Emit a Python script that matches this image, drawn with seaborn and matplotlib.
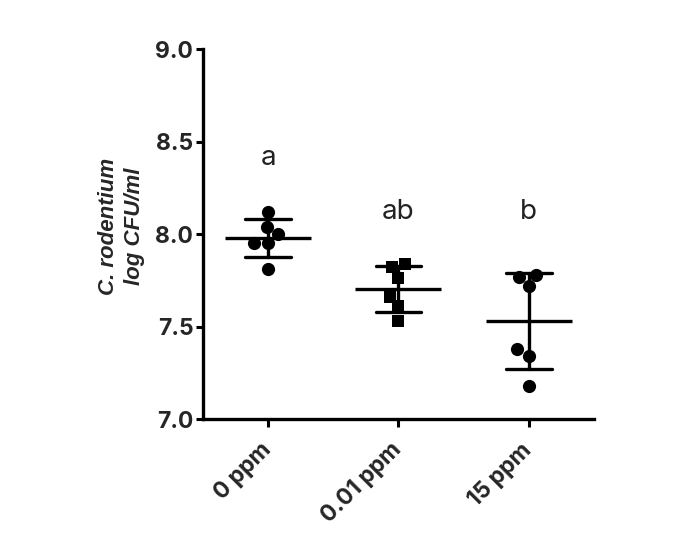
import numpy as np
import pandas as pd
import matplotlib
matplotlib.use('Agg')
import matplotlib.pyplot as plt
import seaborn as sns

# Datos (log CFU/ml)
groups = ['0 ppm', '0.01 ppm', '15 ppm']
vals_0ppm = [8.12, 8.04, 8.00, 7.95, 7.95, 7.81]
vals_001ppm = [7.84, 7.82, 7.76, 7.66, 7.61, 7.53]
vals_15ppm = [7.78, 7.77, 7.72, 7.38, 7.34, 7.18]
letters = ['a', 'ab', 'b']
letter_y = [8.41, 8.12, 8.12]
yticks = [7.0, 7.5, 8.0, 8.5, 9.0]

df = pd.DataFrame({
    'group': np.repeat(groups, 6),
    'value': vals_0ppm + vals_001ppm + vals_15ppm,
})

sns.set_style('ticks')
plt.rcParams['font.family'] = ['Inter', 'DejaVu Sans']

fig = plt.figure(figsize=(6.8, 5.47), dpi=100)
ax = fig.add_axes([0.2985, 0.234, 0.575, 0.6764])

markers = ['o', 's', 'o']
for g, m in zip(groups, markers):
    sns.swarmplot(data=df[df['group'] == g], x='group', y='value', order=groups,
                  marker=m, color='black', size=9.5 if m == 'o' else 9, ax=ax, zorder=3)

sns.pointplot(data=df, x='group', y='value', order=groups, estimator='mean',
              errorbar='sd', capsize=0.35, color='black', markers='_',
              linestyles='none', markersize=62, markeredgewidth=2.4,
              err_kws={'linewidth': 2.4}, ax=ax, zorder=2)

for i, (lt, ly) in enumerate(zip(letters, letter_y)):
    ax.text(i, ly, lt, ha='center', va='center', fontsize=20, color='#222222')

ax.set_xlim(-0.5, 2.5)
ax.set_ylim(7.0, 9.0)
ax.set_yticks(yticks)
ax.set_yticklabels([f'{t:.1f}' for t in yticks], fontsize=16.5, fontweight='bold')
ax.set_xticks(range(len(groups)))
ax.set_xticklabels(groups, fontsize=16.5, fontweight='bold', rotation=45,
                   ha='right', va='center', rotation_mode='anchor')
ax.tick_params(axis='both', width=2.2, length=5, color='black', pad=2)
ax.tick_params(axis='x', length=6, pad=14)
ax.set_xlabel('')
ax.set_ylabel('C. rodentium\nlog CFU/ml', fontsize=16, fontweight='bold',
              fontstyle='italic', linespacing=1.35,
              family=['Liberation Sans', 'DejaVu Sans'])
ax.yaxis.set_label_coords(-0.148, 0.52)

for s in ['top', 'right']:
    ax.spines[s].set_visible(False)
for s in ['left', 'bottom']:
    ax.spines[s].set_linewidth(2.4)
    ax.spines[s].set_color('black')

fig.savefig('out.png', dpi=100)
